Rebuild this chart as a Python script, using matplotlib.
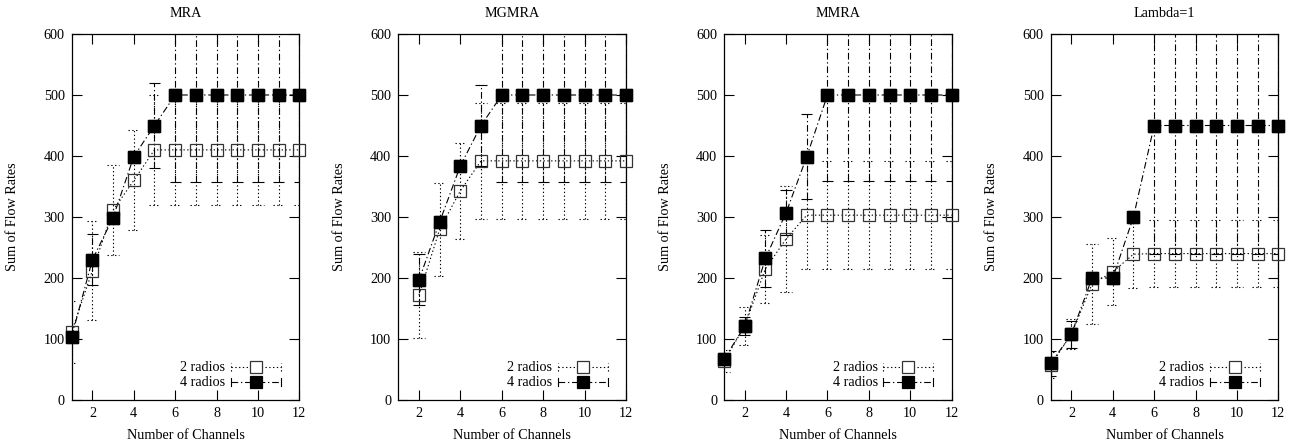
import numpy as np
import matplotlib
matplotlib.use("Agg")
import matplotlib.pyplot as plt

plt.rcParams["font.family"] = ["Liberation Serif", "DejaVu Serif"]
plt.rcParams["font.size"] = 10.2

titles = ["MRA", "MGMRA", "MMRA", "Lambda=1"]
channels = [list(range(1, 13)), list(range(2, 13)), list(range(1, 13)), list(range(1, 13))]

# 2 radios (open squares) and their error bars
mra_2 = [112, 212, 311, 360, 410, 410, 410, 410, 410, 410, 410, 410]
mra_2_err = [51, 81, 74, 82, 90, 90, 90, 90, 90, 90, 90, 90]
mgmra_2 = [172, 280, 343, 392, 392, 392, 392, 392, 392, 392, 392]
mgmra_2_err = [70, 76, 79, 95, 95, 95, 95, 95, 95, 95, 95]
mmra_2 = [64, 121, 215, 264, 303, 303, 303, 303, 303, 303, 303, 303]
mmra_2_err = [18, 31, 56, 87, 89, 89, 89, 89, 89, 89, 89, 89]
lam_2 = [57, 108, 190, 210, 239, 240, 240, 240, 240, 240, 240, 240]
lam_2_err = [21, 24, 65, 55, 55, 55, 55, 55, 55, 55, 55, 55]

# 4 radios (filled squares)
mra_4 = [104, 230, 299, 399, 450, 500, 500, 500, 500, 500, 500, 500]
mra_4_err = [8, 42, 8, 8, 70, 142, 142, 142, 142, 142, 142, 142]
mgmra_4 = [197, 292, 384, 450, 500, 500, 500, 500, 500, 500, 500]
mgmra_4_err = [42, 8, 8, 67, 143, 143, 143, 143, 143, 143, 143]
mmra_4 = [67, 121, 232, 307, 399, 500, 500, 500, 500, 500, 500, 500]
mmra_4_err = [8, 15, 47, 37, 70, 141, 141, 141, 141, 141, 141, 141]
lam_4 = [60, 108, 200, 200, 300, 450, 450, 450, 450, 450, 450, 450]
lam_4_err = [20, 22, 8, 8, 8, 210, 210, 210, 210, 210, 210, 210]

two_radios = [(mra_2, mra_2_err), (mgmra_2, mgmra_2_err), (mmra_2, mmra_2_err), (lam_2, lam_2_err)]
four_radios = [(mra_4, mra_4_err), (mgmra_4, mgmra_4_err), (mmra_4, mmra_4_err), (lam_4, lam_4_err)]

DOT = (0, (1.2, 2.2))
DASHDOT = (0, (6, 2.5, 1.2, 2.5))
CAP = 0.27  # half cap width in x units


def draw_series(ax, x, y, err, line_ls, cap_ls, filled):
    x = np.asarray(x, float)
    y = np.asarray(y, float)
    err = np.asarray(err, float)
    ax.vlines(x, y - err, y + err, colors="black", linestyles=line_ls, linewidth=0.8, zorder=2)
    ax.hlines(np.r_[y - err, y + err], np.r_[x, x] - CAP, np.r_[x, x] + CAP,
              colors="black", linestyles=cap_ls, linewidth=0.8, zorder=2)
    ax.plot(x, y, color="black", linestyle=line_ls, linewidth=0.8, zorder=3)
    ax.plot(x, y, linestyle="none", marker="s", markersize=9.3,
            markerfacecolor="black" if filled else "none",
            markeredgecolor="black" if filled else "#333333",
            markeredgewidth=0.9, zorder=4, clip_on=False)


def draw_legend(ax):
    t = ax.transAxes
    x0, x1, xm = 0.70, 0.92, 0.81
    h = 0.011
    for yy, label, line_ls, cap_ls, filled in [(0.089, "2 radios", DOT, DOT, False),
                                               (0.048, "4 radios", DASHDOT, "-", True)]:
        ax.text(0.675, yy, label, transform=t, ha="right", va="center")
        ax.plot([x0, x1], [yy, yy], transform=t, color="black", linestyle=line_ls, linewidth=0.8)
        for xc in (x0, x1):
            ax.plot([xc, xc], [yy - h, yy + h], transform=t, color="black",
                    linestyle=cap_ls, linewidth=0.8)
        ax.plot([xm], [yy], transform=t, linestyle="none", marker="s", markersize=9.3,
                markerfacecolor="black" if filled else "white",
                markeredgecolor="black" if filled else "#333333", markeredgewidth=0.9)


fig = plt.figure(figsize=(12.99, 4.48), dpi=100)
lefts = [71.7, 398.3, 724.0, 1050.7]

for i, title in enumerate(titles):
    ax = fig.add_axes([lefts[i] / 1299, 48 / 448, 227.6 / 1299, 366 / 448])
    x = channels[i]
    draw_series(ax, x, four_radios[i][0], four_radios[i][1], DASHDOT, "-", True)
    draw_series(ax, x, two_radios[i][0], two_radios[i][1], DOT, DOT, False)
    # redraw filled on top so open squares don't cover them
    ax.plot(x, four_radios[i][0], linestyle="none", marker="s", markersize=9.3,
            markerfacecolor="black", markeredgecolor="black", zorder=5, clip_on=False)

    ax.set_xlim(1, 12)
    ax.set_ylim(0, 600)
    ax.set_xticks([2, 4, 6, 8, 10, 12])
    ax.set_yticks(range(0, 601, 100))
    ax.tick_params(direction="in", length=7, width=0.8, top=True, right=True, pad=5)
    ax.tick_params(axis="y", pad=5)
    for s in ax.spines.values():
        s.set_linewidth(0.9)

    ax.text(0.5, 1.055, title, transform=ax.transAxes, ha="center", va="center")
    ax.text(0.5, -0.096, "Number of Channels", transform=ax.transAxes, ha="center", va="center")
    ax.text(-0.258, 0.5, "Sum of Flow Rates", transform=ax.transAxes, ha="center",
            va="center", rotation=90)
    draw_legend(ax)

fig.savefig("out.png", dpi=100)
